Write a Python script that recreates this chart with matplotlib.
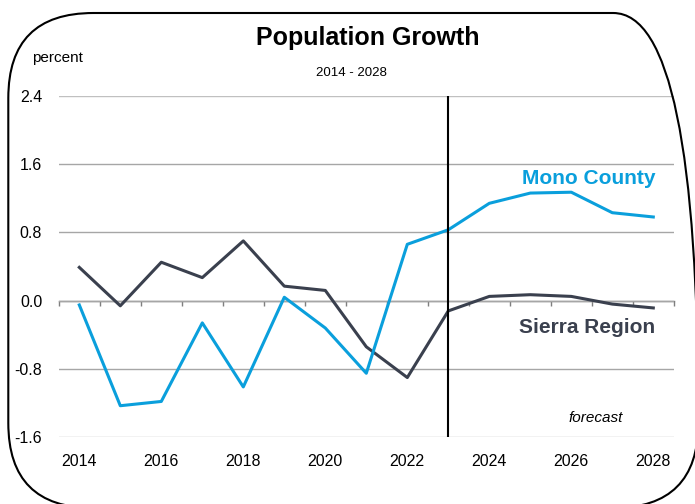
"""Population growth chart: Mono County vs Sierra Region, 2014-2028."""

import matplotlib

matplotlib.use("Agg")

import matplotlib.pyplot as plt
import numpy as np
from matplotlib import font_manager
from matplotlib.patches import FancyBboxPatch

years = list(range(2014, 2029))
mono_county = [-0.05, -1.23, -1.18, -0.26, -1.01, 0.04, -0.32, -0.85,
               0.66, 0.83, 1.14, 1.26, 1.27, 1.03, 0.98]
sierra_region = [0.39, -0.06, 0.45, 0.27, 0.70, 0.17, 0.12, -0.54,
                 -0.90, -0.12, 0.05, 0.07, 0.05, -0.04, -0.085]
y_ticks = [-1.6, -0.8, 0.0, 0.8, 1.6, 2.4]
x_ticks = list(range(2014, 2029, 2))
forecast_start = 2023

MONO_COLOR = "#0a9fdc"
SIERRA_COLOR = "#3a404e"


def pick_font(names):
    """Return the first installed family from names."""
    for name in names:
        try:
            font_manager.findfont(name, fallback_to_default=False)
            return name
        except ValueError:
            continue
    return "DejaVu Sans"


REGULAR = pick_font(["Liberation Sans", "Arial"])

plt.rcParams["font.family"] = [REGULAR, "DejaVu Sans"]

fig = plt.figure(figsize=(6.95, 5.04), dpi=100)
ax = fig.add_axes([0.0846, 0.1323, 0.8849, 0.6778])

ax.plot(years, sierra_region, color=SIERRA_COLOR, lw=2.2, zorder=3)
ax.plot(years, mono_county, color=MONO_COLOR, lw=2.2, zorder=4)
ax.axvline(forecast_start, ymax=0.995, color="black", lw=1.5, zorder=5)

ax.set_xlim(2013.5, 2028.5)
ax.set_ylim(-1.6, 2.4)
ax.set_yticks(y_ticks)
ax.set_yticklabels([f"{v:.1f}" for v in y_ticks])
ax.set_xticks(x_ticks)
ax.tick_params(axis="both", length=0, labelsize=11.5, colors="black")
ax.tick_params(axis="x", pad=12)
ax.tick_params(axis="y", pad=12)
for spine in ax.spines.values():
    spine.set_visible(False)

ax.yaxis.grid(True, color="#a6a6a6", lw=1.0, zorder=0)
grid_lines = ax.get_ygridlines()
grid_lines[0].set_color("#c0c0c0")
grid_lines[-1].set_color("#c0c0c0")

# zero axis with year-boundary ticks
zero_axis = ax.secondary_xaxis(0.4)
zero_axis.set_xticks(np.arange(2013.5, 2029, 1))
zero_axis.tick_params(length=3.5, width=1, color="#7f7f7f",
                      direction="out", labelbottom=False)
zero_axis.spines["bottom"].set_color("#7f7f7f")
zero_axis.spines["bottom"].set_linewidth(1.0)

ax.text(2028.05, 1.425, "Mono County", color=MONO_COLOR, fontsize=15,
        fontweight="bold", ha="right", va="center")
ax.text(2028.05, -0.31, "Sierra Region", color=SIERRA_COLOR, fontsize=15,
        fontweight="bold", ha="right", va="center")
ax.text(2026.6, -1.37, "forecast", fontsize=11, style="italic",
        ha="center", va="center")

fig.text(0.5295, 0.924, "Population Growth", fontsize=18,
         fontweight="bold", ha="center", va="center")
fig.text(0.506, 0.855, "2014 - 2028", fontsize=9.5, ha="center", va="center")
fig.text(0.046, 0.885, "percent", fontsize=11, ha="left", va="center")

frame = FancyBboxPatch(
    (0.083, -0.04), 6.90, 4.95,
    boxstyle="round,pad=0,rounding_size=0.85",
    transform=fig.dpi_scale_trans,
    facecolor="none", edgecolor="black", lw=1.5, clip_on=False,
)
fig.patches.append(frame)

fig.savefig("out.png", dpi=100)
